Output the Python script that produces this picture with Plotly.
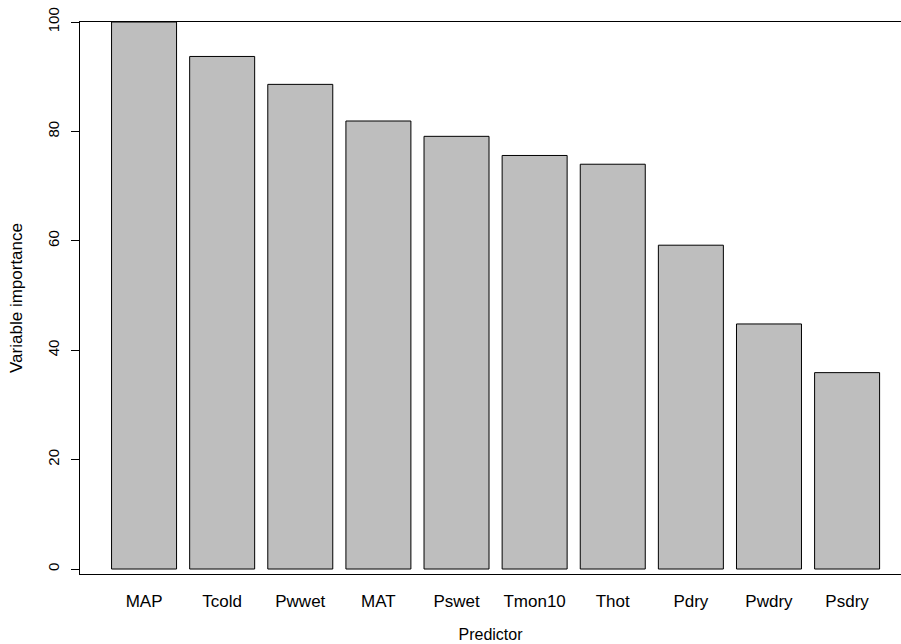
import plotly.graph_objects as go

predictors = ["MAP", "Tcold", "Pwwet", "MAT", "Pswet", "Tmon10", "Thot", "Pdry", "Pwdry", "Psdry"]
importance = [100.0, 93.7, 88.6, 81.9, 79.1, 75.6, 74.0, 59.2, 44.8, 35.9]
y_ticks = [0, 20, 40, 60, 80, 100]

FONT = "Liberation Sans, Arial, sans-serif"

fig = go.Figure()
fig.add_trace(go.Bar(
    x=predictors,
    y=importance,
    width=0.832,
    marker=dict(color="#bebebe", line=dict(color="black", width=1)),
    hoverinfo="x+y",
))

fig.update_layout(
    width=901,
    height=644,
    margin=dict(l=80, r=0, t=22, b=70),
    paper_bgcolor="white",
    plot_bgcolor="white",
    showlegend=False,
    font=dict(family=FONT, size=17, color="black"),
    xaxis=dict(
        type="category",
        range=[-0.82, 9.69],
        showline=True,
        mirror=True,
        linecolor="black",
        linewidth=1,
        ticks="",
        showgrid=False,
        zeroline=False,
        ticklabelstandoff=12,
        tickfont=dict(size=17),
        title=dict(text="Predictor", font=dict(size=16), standoff=18),
        automargin=False,
    ),
    yaxis=dict(
        range=[-0.91, 100],
        tickvals=y_ticks,
        ticktext=[str(v) for v in y_ticks],
        tickangle=-90,
        showline=True,
        linecolor="black",
        linewidth=1,
        ticks="outside",
        ticklen=8,
        tickcolor="black",
        showgrid=False,
        zeroline=False,
        ticklabelstandoff=6,
        tickfont=dict(size=15),
        title=dict(text="Variable importance", font=dict(size=17), standoff=18),
        automargin=False,
    ),
)

fig.write_html(
    "out.html",
    config={"displayModeBar": False},
    post_script="document.body.style.margin='0';document.body.style.padding='0';",
)
